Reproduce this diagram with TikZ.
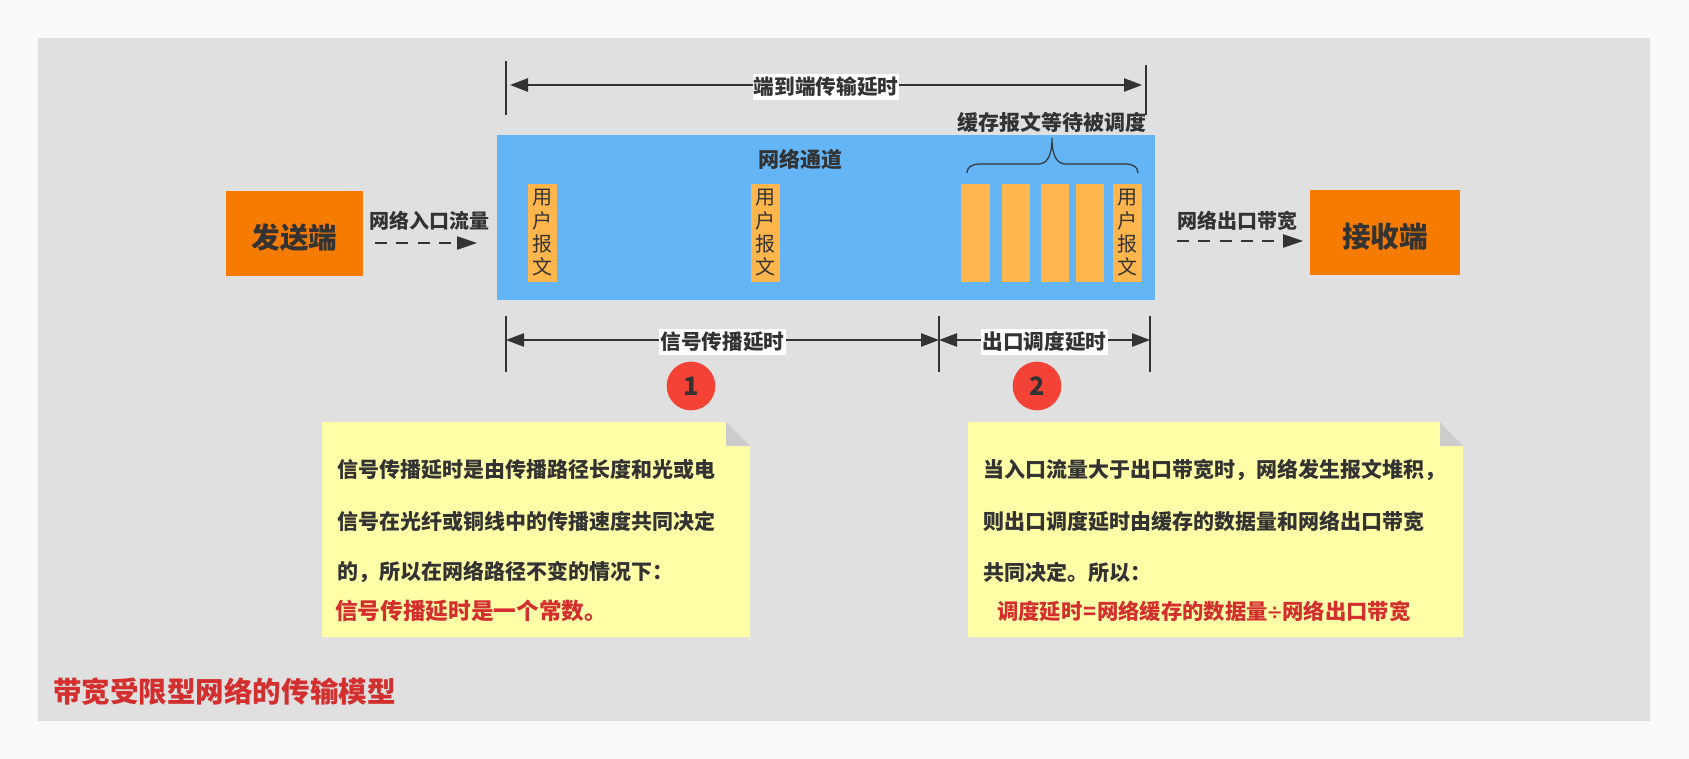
\documentclass[tikz,border=0pt]{standalone}
\usepackage{fontspec}
\usepackage{xcolor}
\setmainfont{Noto Sans CJK SC}
\usetikzlibrary{arrows.meta,positioning}
\definecolor{pagegray}{HTML}{FAFAFA}
\definecolor{backgray}{HTML}{E0E0E0}
\definecolor{chanblue}{HTML}{64B5F6}
\definecolor{hostorange}{HTML}{F57C00}
\definecolor{pktorange}{HTML}{FFB74D}
\definecolor{notey}{HTML}{FFFFA8}
\definecolor{foldgray}{HTML}{CCCCCC}
\definecolor{inkgray}{HTML}{333333}
\definecolor{alertred}{HTML}{D32F2F}
\definecolor{badgered}{HTML}{F44336}
\tikzset{
  host/.style={fill=hostorange,text=inkgray,inner sep=0pt,minimum width=#1,minimum height=63.75pt,font=\fontsize{21.5}{24}\selectfont\bfseries},
  packet/.style={fill=pktorange,text=inkgray,inner sep=0pt,minimum width=21.5pt,minimum height=73.5pt,align=center,font=\fontsize{15}{17.5}\selectfont},
  dimline/.style={draw=inkgray,line width=1.1pt,{Triangle[length=13.5pt,width=10pt]}-{Triangle[length=13.5pt,width=10pt]}},
  tick/.style={draw=inkgray,line width=1pt},
  dimlabel/.style={fill=white,text=inkgray,inner sep=0pt,minimum height=20pt,yshift=-1.5pt,font=\fontsize{15.5}{18}\selectfont\bfseries},
  flowlabel/.style={text=inkgray,inner sep=0pt,font=\fontsize{15}{18}\selectfont\bfseries},
  flowline/.style={draw=inkgray,line width=.9pt,dash pattern=on 9pt off 7pt,-{Triangle[length=15pt,width=10pt]}},
  badge/.style={circle,fill=badgered,text=inkgray,inner sep=0pt,minimum size=36.5pt,font=\fontsize{19}{20}\selectfont\bfseries},
  notetext/.style={anchor=west,text=inkgray,inner sep=0pt,font=\fontsize{15.75}{18}\selectfont\bfseries},
  alerttext/.style={anchor=west,text=alertred,inner sep=0pt,font=\fontsize{#1}{20}\selectfont\bfseries},
}

\begin{document}
\begin{tikzpicture}[x=0.75pt,y=-0.75pt]
\useasboundingbox (0,0) rectangle (1689,759);
\fill[pagegray] (0,0) rectangle (1689,759);
\fill[backgray] (38,38) rectangle (1650,721);
% ---------- channel and hosts ----------
\fill[chanblue] (497,135) rectangle (1155,300);
\node[host=102.75pt] (sender) at (294.5,233.5) {\raisebox{-11pt}[0pt][0pt]{发送端}};
\node[host=113pt] (receiver) at (1385,233) {\raisebox{-11pt}[0pt][0pt]{接收端}};
\node[flowlabel] (inLabel) at (429,221) {网络入口流量};
\node[flowlabel] (outLabel) at (1237,221) {网络出口带宽};
\coordinate (inA) at (375,243);
\coordinate (inB) at (477,243);
\coordinate (outA) at (1177,241);
\coordinate (outB) at (1303,241);
\draw[flowline] (inA) -- (inB);
\draw[flowline] (outA) -- (outB);
\node[text=inkgray,inner sep=0pt,font=\fontsize{15.75}{18}\selectfont\bfseries] (chanLabel) at (800,160) {网络通道};
\node[text=inkgray,inner sep=0pt,font=\fontsize{15.75}{18}\selectfont\bfseries] (queueLabel) at (1052,122.5) {缓存报文等待被调度};
% ---------- packets ----------
\foreach \x/\n in {542.5/a,765.5/b,1127.5/c} {\node[packet] (pkt\n) at (\x,233) {\raisebox{-1.5pt}{用}\\\raisebox{-1.5pt}{户}\\\raisebox{-1.5pt}{报}\\\raisebox{-1.5pt}{文}};}
\foreach \x/\n in {975.5/d,1016/e,1055/f,1090/g} {\node[packet] (pkt\n) at (\x,233) {};}
\draw[inkgray,line width=.9pt] (967,173) .. controls (967,167) and (972,164) .. (980,164) -- (1038,164)
  .. controls (1046,164) and (1052,158) .. (1052,138)
  .. controls (1052,158) and (1058,164) .. (1066,164) -- (1125,164)
  .. controls (1133,164) and (1138,167) .. (1138,173);
% ---------- delays ----------
\draw[tick] (506,61) -- (506,115);
\draw[tick] (1146,65) -- (1146,115);
\foreach \x in {506,939,1150} {\draw[tick] (\x,316) -- (\x,372);}
\coordinate (endA) at (510,85);
\coordinate (endB) at (1142,85);
\coordinate (sigA) at (506,340);
\coordinate (sigB) at (939,340);
\coordinate (outC) at (1150,340);
\draw[dimline] (endA) -- node[dimlabel,minimum width=110pt] (endLabel) {端到端传输延时} (endB);
\draw[dimline] (sigA) -- node[dimlabel,minimum width=95pt] (sigLabel) {信号传播延时} (sigB);
\draw[dimline] (sigB) -- node[dimlabel,minimum width=95pt] (outLabelB) {出口调度延时} (outC);
\node[badge] (badgeA) at (691,386) {\raisebox{-1.5pt}{1}};
\node[badge] (badgeB) at (1037,386) {\raisebox{-1.5pt}{2}};
% ---------- notes ----------
\fill[notey] (322,422) -- (726,422) -- (726,446) -- (750,446) -- (750,637) -- (322,637) -- cycle;
\fill[foldgray] (726,422) -- (750,446) -- (726,446) -- cycle;
\fill[notey] (968,422) -- (1440,422) -- (1440,446) -- (1463,446) -- (1463,637) -- (968,637) -- cycle;
\fill[foldgray] (1440,422) -- (1463,446) -- (1440,446) -- cycle;
\node[notetext] (noteAa) at (337,470) {信号传播延时是由传播路径长度和光或电};
\node[notetext] (noteAb) at (337,521.5) {信号在光纤或铜线中的传播速度共同决定};
\node[notetext] (noteAc) at (337,572.5) {的，所以在网络路径不变的情况下：};
\node[alerttext=17] (noteAd) at (335,611) {信号传播延时是一个常数。};
\node[notetext] (noteBa) at (983,470) {当入口流量大于出口带宽时，网络发生报文堆积，};
\node[notetext] (noteBb) at (983,521.5) {则出口调度延时由缓存的数据量和网络出口带宽};
\node[notetext] (noteBc) at (983,572.5) {共同决定。所以：};
\node[alerttext=16] (noteBd) at (997,611.5) {调度延时\makebox[11pt]{=}网络缓存的数据量\makebox[11pt]{\fontsize{13}{13}\selectfont ÷}网络出口带宽};
\node[alerttext=21.4] (title) at (53,692) {带宽受限型网络的传输模型};
\end{tikzpicture}
\end{document}
